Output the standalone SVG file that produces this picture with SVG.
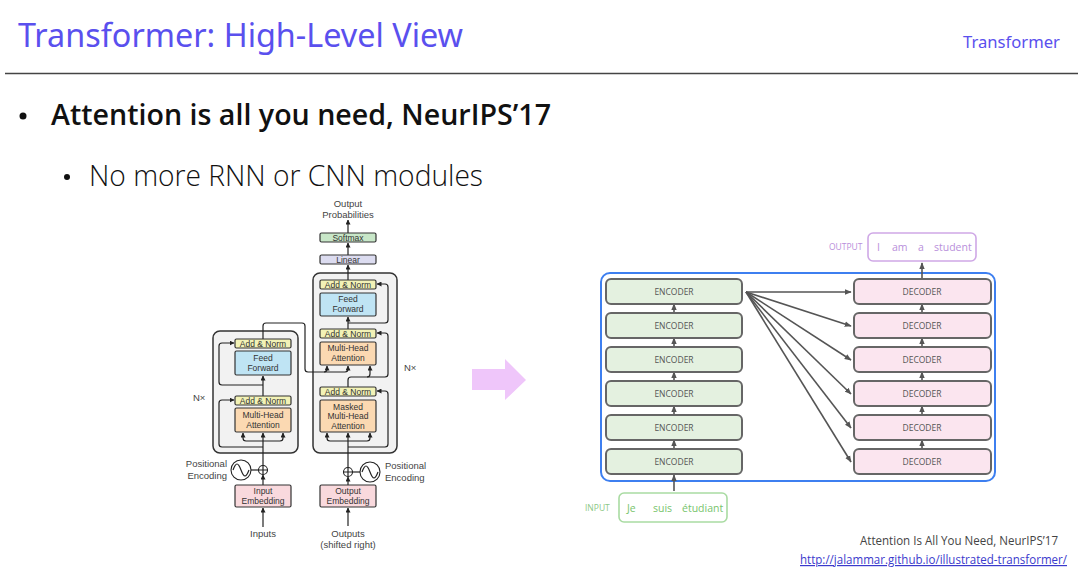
<svg xmlns="http://www.w3.org/2000/svg" width="1090" height="577" viewBox="0 0 1090 577">
<defs>
<marker id="ah" viewBox="0 0 10 10" refX="9" refY="5" markerWidth="5" markerHeight="5" markerUnits="userSpaceOnUse" orient="auto"><path d="M0,0 L10,5 L0,10 z" fill="#222"/></marker>
<marker id="ah2" viewBox="0 0 10 10" refX="9" refY="5" markerWidth="7" markerHeight="7" markerUnits="userSpaceOnUse" orient="auto"><path d="M0,1 L10,5 L0,9 z" fill="#555"/></marker>
<style>
.hd{font-family:"Noto Sans","Liberation Sans",sans-serif;fill:#5a50ee}
.b1{font-family:"Open Sans","Noto Sans",sans-serif;font-weight:600;font-size:29px;fill:#111}
.b2{font-family:"Open Sans","Noto Sans",sans-serif;font-weight:300;font-size:29px;fill:#111}
.lt{font-family:"Liberation Sans",Arial,sans-serif;font-size:8.5px;fill:#333;text-anchor:middle}
.ll{font-family:"Liberation Sans",Arial,sans-serif;font-size:9.5px;fill:#444}
.bx{stroke:#333;stroke-width:1.2}
.an{fill:#f2f2b6}
.ff{fill:#bfe4f4}
.mh{fill:#fbd9b2}
.em{fill:#f9d9dd}
.cn{fill:none;stroke:#222;stroke-width:1.2}
.ca{fill:none;stroke:#222;stroke-width:1.2;marker-end:url(#ah)}
.enc{fill:#e4f1e0;stroke:#666;stroke-width:2}
.dec{fill:#fbe5ef;stroke:#666;stroke-width:2}
.et{font-family:"Open Sans","Noto Sans",sans-serif;font-size:8.5px;fill:#555;text-anchor:middle}
.fa{fill:none;stroke:#555;stroke-width:1.6;marker-end:url(#ah2)}
.ft{font-family:"Open Sans","Noto Sans",sans-serif;font-size:12px}
</style>
</defs>
<rect width="1090" height="577" fill="#fff"/>
<!-- header -->
<text class="hd" x="18" y="47" font-size="32" textLength="445" lengthAdjust="spacingAndGlyphs">Transformer: High-Level View</text>
<text class="hd" x="963" y="48" font-size="17" textLength="97" lengthAdjust="spacingAndGlyphs">Transformer</text>
<line x1="5" y1="73.5" x2="1078" y2="73.5" stroke="#444" stroke-width="1.5"/>
<circle cx="23" cy="116" r="3.5" fill="#111"/>
<text class="b1" x="51" y="125" textLength="500" lengthAdjust="spacingAndGlyphs">Attention is all you need, NeurIPS’17</text>
<circle cx="67" cy="177" r="3" fill="#111"/>
<text class="b2" x="89" y="186" textLength="394" lengthAdjust="spacingAndGlyphs">No more RNN or CNN modules</text>

<!-- left transformer diagram -->
<g id="encoder-block">
<rect x="213" y="331" width="85" height="122" rx="7" fill="#f2f2f2" stroke="#333" stroke-width="1.5"/>
</g>
<g id="decoder-block">
<rect x="313" y="273" width="84" height="180" rx="7" fill="#f2f2f2" stroke="#333" stroke-width="1.5"/>
</g>
<g id="connectors-left">
<path class="ca" d="M263,527 V508"/>
<path class="ca" d="M263,485 V475"/>
<path class="ca" d="M263,466 V433"/>
<path class="ca" d="M263,447 H222 Q219,447 219,444 V403 Q219,400 222,400 H234"/>
<path class="ca" d="M263,441 H246 Q243,441 243,438 V433"/>
<path class="ca" d="M263,441 H280 Q283,441 283,438 V433"/>
<path class="ca" d="M263,396 V376"/>
<path class="ca" d="M263,385 H222 Q219,385 219,382 V346 Q219,343 222,343 H234"/>
<path class="ca" d="M263,339 V326 Q263,323 266,323 H302 Q305,323 305,326 V369 Q305,372 308,372 H324 Q327,372 327,369 V366"/>
<path class="ca" d="M324,372 H345 Q348,372 348,369 V366"/>
<path class="ca" d="M348,387 V380 Q348,377 351,377 H367 Q370,377 370,374 V366"/>
<path class="ca" d="M367,377 H385 Q388,377 388,374 V336 Q388,333 385,333 H377"/>
<path class="ca" d="M348,526 V508"/>
<path class="ca" d="M348,485 V477"/>
<path class="ca" d="M348,468 V433"/>
<path class="ca" d="M348,447 H385 Q388,447 388,444 V394 Q388,391 385,391 H377"/>
<path class="ca" d="M348,441 H330 Q327,441 327,438 V433"/>
<path class="ca" d="M348,441 H367 Q370,441 370,438 V433"/>
<path class="ca" d="M348,329 V317"/>
<path class="ca" d="M348,323 H385 Q388,323 388,320 V287 Q388,284 385,284 H377"/>
<path class="ca" d="M348,280 V265"/>
<path class="ca" d="M348,255 V243"/>
<path class="ca" d="M348,233 V220"/>
<path class="cn" d="M251,470 H259"/>
<path class="cn" d="M352,472 H360"/>
</g>
<g id="enc-addnorm2"><rect class="bx an" x="235" y="339" width="56" height="9" rx="1.5"/><text class="lt" x="263" y="346.5">Add &amp; Norm</text></g>
<g id="enc-ff"><rect class="bx ff" x="235" y="351" width="56" height="24" rx="1.5"/><text class="lt" x="263" y="360.5">Feed</text><text class="lt" x="263" y="370.5">Forward</text></g>
<g id="enc-addnorm1"><rect class="bx an" x="235" y="396" width="56" height="9" rx="1.5"/><text class="lt" x="263" y="403.5">Add &amp; Norm</text></g>
<g id="enc-mha"><rect class="bx mh" x="235" y="408" width="56" height="24" rx="1.5"/><text class="lt" x="263" y="417.5">Multi-Head</text><text class="lt" x="263" y="427.5">Attention</text></g>
<g id="enc-plus"><circle cx="263" cy="470" r="4.5" fill="#fff" stroke="#222" stroke-width="1.1"/><path class="cn" d="M258.5,470 H267.5 M263,465.5 V474.5"/></g>
<g id="enc-pos"><circle cx="241" cy="470" r="10" fill="#fff" stroke="#222" stroke-width="1.1"/><path class="cn" d="M233,470 C236,462 238,462 241,470 C244,478 246,478 249,470"/>
<text class="ll" x="227" y="467" text-anchor="end">Positional</text><text class="ll" x="227" y="479" text-anchor="end">Encoding</text></g>
<g id="enc-embed"><rect class="bx em" x="235" y="485" width="56" height="22" rx="1.5"/><text class="lt" x="263" y="494">Input</text><text class="lt" x="263" y="503.5">Embedding</text></g>
<g id="inputs"><text class="ll" x="263" y="537" text-anchor="middle">Inputs</text></g>
<text class="ll" x="193" y="401">N×</text>
<text class="ll" x="404" y="371">N×</text>

<g id="dec-softmax"><rect class="bx" x="320" y="233" width="56" height="9" rx="1.5" fill="#c8e7c8"/><text class="lt" x="348" y="240.5">Softmax</text></g>
<g id="dec-linear"><rect class="bx" x="320" y="255" width="56" height="9" rx="1.5" fill="#dcdcf0"/><text class="lt" x="348" y="262.5">Linear</text></g>
<g id="dec-addnorm3"><rect class="bx an" x="320" y="280" width="56" height="9" rx="1.5"/><text class="lt" x="348" y="287.5">Add &amp; Norm</text></g>
<g id="dec-ff"><rect class="bx ff" x="320" y="293" width="56" height="23" rx="1.5"/><text class="lt" x="348" y="302">Feed</text><text class="lt" x="348" y="312">Forward</text></g>
<g id="dec-addnorm2"><rect class="bx an" x="320" y="329" width="56" height="9" rx="1.5"/><text class="lt" x="348" y="336.5">Add &amp; Norm</text></g>
<g id="dec-mha"><rect class="bx mh" x="320" y="342" width="56" height="23" rx="1.5"/><text class="lt" x="348" y="351">Multi-Head</text><text class="lt" x="348" y="361">Attention</text></g>
<g id="dec-addnorm1"><rect class="bx an" x="320" y="387" width="56" height="9" rx="1.5"/><text class="lt" x="348" y="394.5">Add &amp; Norm</text></g>
<g id="dec-mmha"><rect class="bx mh" x="320" y="400" width="56" height="32" rx="1.5"/><text class="lt" x="348" y="409.5">Masked</text><text class="lt" x="348" y="419">Multi-Head</text><text class="lt" x="348" y="428.5">Attention</text></g>
<g id="dec-plus"><circle cx="348" cy="472" r="4.5" fill="#fff" stroke="#222" stroke-width="1.1"/><path class="cn" d="M343.5,472 H352.5 M348,467.5 V476.5"/></g>
<g id="dec-pos"><circle cx="370" cy="472" r="10" fill="#fff" stroke="#222" stroke-width="1.1"/><path class="cn" d="M362,472 C365,464 367,464 370,472 C373,480 375,480 378,472"/>
<text class="ll" x="385" y="469">Positional</text><text class="ll" x="385" y="481">Encoding</text></g>
<g id="dec-embed"><rect class="bx em" x="320" y="485" width="56" height="22" rx="1.5"/><text class="lt" x="348" y="494">Output</text><text class="lt" x="348" y="503.5">Embedding</text></g>
<g id="outputs"><text class="ll" x="348" y="537" text-anchor="middle">Outputs</text><text class="ll" x="348" y="548" text-anchor="middle">(shifted right)</text></g>
<g id="out-prob"><text class="ll" x="348" y="207" text-anchor="middle">Output</text><text class="ll" x="348" y="218" text-anchor="middle">Probabilities</text></g>

<!-- pink arrow -->
<g id="big-arrow"><path d="M472,369 H505 V359 L526,380 L505,400 V390 H472 z" fill="#efc6fa"/></g>

<!-- right diagram -->
<g id="stack-frame"><rect x="601" y="273" width="394" height="208" rx="9" fill="none" stroke="#3d7ff0" stroke-width="2"/></g>
<g id="connectors-right">
<path class="fa" d="M674,313 V304"/>
<path class="fa" d="M674,347 V338"/>
<path class="fa" d="M674,381 V372"/>
<path class="fa" d="M674,415 V406"/>
<path class="fa" d="M674,449 V440"/>
<path class="fa" d="M674,491 V475"/>
<path class="fa" d="M922,313 V304"/>
<path class="fa" d="M922,347 V338"/>
<path class="fa" d="M922,381 V372"/>
<path class="fa" d="M922,415 V406"/>
<path class="fa" d="M922,449 V440"/>
<path class="fa" d="M922,279 V263"/>
<path class="fa" d="M746,292 L851,292"/>
<path class="fa" d="M746,292 L851,326"/>
<path class="fa" d="M746,292 L851,360"/>
<path class="fa" d="M746,292 L851,394"/>
<path class="fa" d="M746,292 L851,428"/>
<path class="fa" d="M746,292 L851,462"/>
</g>
<g id="enc1"><rect class="enc" x="606" y="279" width="136" height="25" rx="5"/><text class="et" x="674" y="295">ENCODER</text></g>
<g id="enc2"><rect class="enc" x="606" y="313" width="136" height="25" rx="5"/><text class="et" x="674" y="329">ENCODER</text></g>
<g id="enc3"><rect class="enc" x="606" y="347" width="136" height="25" rx="5"/><text class="et" x="674" y="363">ENCODER</text></g>
<g id="enc4"><rect class="enc" x="606" y="381" width="136" height="25" rx="5"/><text class="et" x="674" y="397">ENCODER</text></g>
<g id="enc5"><rect class="enc" x="606" y="415" width="136" height="25" rx="5"/><text class="et" x="674" y="431">ENCODER</text></g>
<g id="enc6"><rect class="enc" x="606" y="449" width="136" height="25" rx="5"/><text class="et" x="674" y="465">ENCODER</text></g>
<g id="dec1"><rect class="dec" x="854" y="279" width="137" height="25" rx="5"/><text class="et" x="922" y="295">DECODER</text></g>
<g id="dec2"><rect class="dec" x="854" y="313" width="137" height="25" rx="5"/><text class="et" x="922" y="329">DECODER</text></g>
<g id="dec3"><rect class="dec" x="854" y="347" width="137" height="25" rx="5"/><text class="et" x="922" y="363">DECODER</text></g>
<g id="dec4"><rect class="dec" x="854" y="381" width="137" height="25" rx="5"/><text class="et" x="922" y="397">DECODER</text></g>
<g id="dec5"><rect class="dec" x="854" y="415" width="137" height="25" rx="5"/><text class="et" x="922" y="431">DECODER</text></g>
<g id="dec6"><rect class="dec" x="854" y="449" width="137" height="25" rx="5"/><text class="et" x="922" y="465">DECODER</text></g>
<g id="input-box">
<text x="585" y="511" font-family="Open Sans,Noto Sans,sans-serif" font-size="8.5" fill="#8cc886">INPUT</text>
<rect x="619" y="493" width="108" height="29" rx="5" fill="#fff" stroke="#a9dba2" stroke-width="1.6"/>
<g font-family="Open Sans,Noto Sans,sans-serif" font-size="10.5" fill="#78c46c"><text x="627" y="512">Je</text><text x="653" y="512">suis</text><text x="682" y="512">étudiant</text></g>
</g>
<g id="output-box">
<text x="829" y="250" font-family="Open Sans,Noto Sans,sans-serif" font-size="8.5" fill="#b98fdb">OUTPUT</text>
<rect x="868" y="233" width="108" height="28" rx="5" fill="#fff" stroke="#cfa8e6" stroke-width="1.6"/>
<g font-family="Open Sans,Noto Sans,sans-serif" font-size="10.5" fill="#b98fdb"><text x="877" y="251">I</text><text x="892" y="251">am</text><text x="918" y="251">a</text><text x="934" y="251">student</text></g>
</g>
<!-- footer -->
<text class="ft" x="860" y="545" fill="#444" textLength="198" lengthAdjust="spacingAndGlyphs">Attention Is All You Need, NeurIPS’17</text>
<text class="ft" x="800" y="564" fill="#3a3acc" text-decoration="underline" textLength="267" lengthAdjust="spacingAndGlyphs">http://jalammar.github.io/illustrated-transformer/</text>
</svg>
